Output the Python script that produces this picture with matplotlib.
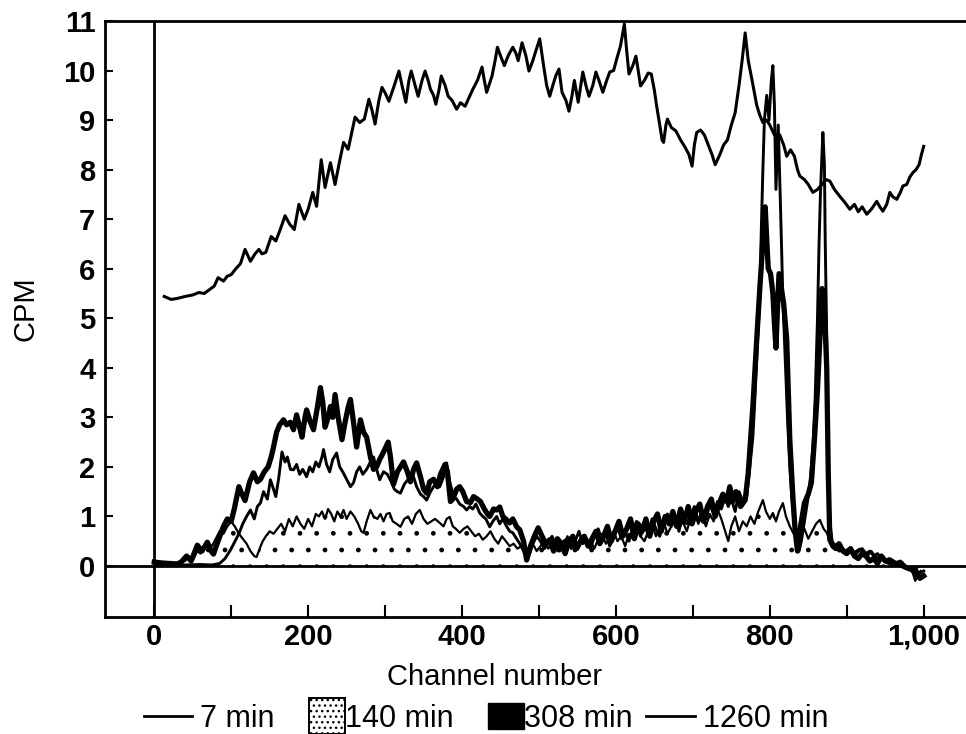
import matplotlib
matplotlib.use('Agg')
import matplotlib.pyplot as plt
import numpy as np
from matplotlib.lines import Line2D
from matplotlib.patches import Patch, Rectangle
from matplotlib.legend_handler import HandlerPatch
from matplotlib.ticker import FuncFormatter, MultipleLocator

plt.rcParams['font.family'] = ['Liberation Sans', 'DejaVu Sans']
plt.rcParams['hatch.linewidth'] = 1.0

series_labels = ['7 min', '140 min', '308 min', '1260 min']
x_label = 'Channel number'
y_label = 'CPM'
x_ticks = [0, 200, 400, 600, 800, 1000]
y_ticks = list(range(0, 12))

# (channel, CPM) pairs
min7 = [(13, 5.44), (22, 5.38), (30, 5.40), (40, 5.44), (50, 5.47), (58, 5.52), (65, 5.50), (72, 5.58),
        (78, 5.65), (83, 5.82), (90, 5.75), (95, 5.85), (100, 5.88), (106, 6.0), (112, 6.1), (118, 6.39),
        (125, 6.15), (131, 6.3), (136, 6.39), (140, 6.3), (145, 6.33), (152, 6.65), (158, 6.56), (164, 6.8),
        (170, 7.07), (176, 6.9), (182, 6.79), (188, 7.3), (195, 7.0), (200, 7.2), (206, 7.54), (211, 7.26),
        (217, 8.2), (222, 7.64), (229, 8.14), (235, 7.7), (240, 8.1), (246, 8.55), (252, 8.41), (256, 8.7),
        (261, 9.06), (267, 8.95), (273, 9.02), (279, 9.42), (283, 9.2), (287, 8.92), (292, 9.4), (296, 9.66),
        (300, 9.55), (305, 9.38), (312, 9.7), (318, 9.99), (322, 9.7), (327, 9.36), (331, 9.8), (334, 9.99),
        (339, 9.7), (343, 9.48), (348, 9.8), (352, 9.99), (356, 9.8), (359, 9.62), (363, 9.5), (366, 9.32),
        (370, 9.6), (373, 9.89), (378, 9.7), (382, 9.48), (387, 9.4), (393, 9.22), (398, 9.35), (404, 9.28),
        (409, 9.45), (414, 9.62), (420, 9.8), (426, 10.07), (429, 9.8), (432, 9.56), (436, 9.75), (439, 9.89),
        (443, 10.2), (446, 10.47), (450, 10.3), (455, 10.1), (460, 10.3), (466, 10.47), (470, 10.35), (473, 10.2),
        (478, 10.56), (483, 10.3), (487, 9.99), (492, 10.2), (496, 10.4), (501, 10.64), (506, 10.1), (510, 9.7),
        (514, 9.48), (518, 9.7), (522, 9.9), (526, 10.03), (530, 9.56), (535, 9.4), (539, 9.18), (543, 9.5),
        (546, 9.8), (551, 9.36), (557, 9.97), (561, 9.7), (565, 9.48), (570, 9.7), (574, 9.97), (578, 9.8),
        (583, 9.56), (588, 9.8), (592, 9.97), (597, 10.0), (601, 10.23), (606, 10.5), (611, 10.94), (614, 10.4),
        (617, 9.93), (622, 10.1), (626, 10.29), (629, 10.0), (632, 9.69), (637, 9.8), (642, 9.95), (646, 9.93),
        (650, 9.6), (653, 9.28), (657, 8.9), (660, 8.6), (662, 8.55), (665, 8.9), (667, 9.02), (672, 8.85),
        (678, 8.78), (684, 8.6), (690, 8.45), (695, 8.3), (699, 8.07), (702, 8.5), (705, 8.75), (710, 8.8),
        (715, 8.7), (720, 8.5), (725, 8.3), (729, 8.1), (735, 8.3), (740, 8.5), (745, 8.6), (750, 8.9),
        (755, 9.15), (760, 9.7), (764, 10.2), (768, 10.76), (772, 10.2), (777, 9.8), (783, 9.3), (787, 9.1),
        (791, 8.95), (796, 9.0), (800, 8.9), (806, 8.7), (813, 8.7), (818, 8.5), (822, 8.27), (827, 8.4),
        (832, 8.27), (836, 8.0), (839, 7.87), (845, 7.8), (850, 7.7), (856, 7.54), (862, 7.6), (868, 7.7),
        (873, 7.8), (878, 7.77), (884, 7.6), (891, 7.46), (897, 7.35), (904, 7.2), (910, 7.3), (915, 7.15),
        (920, 7.25), (926, 7.1), (932, 7.2), (939, 7.36), (943, 7.25), (947, 7.16), (952, 7.3), (956, 7.54),
        (960, 7.45), (965, 7.4), (970, 7.55), (973, 7.67), (978, 7.7), (982, 7.85), (986, 7.94), (990, 8.0),
        (994, 8.1), (997, 8.3), (1000, 8.47)]

min140 = [(0, 0.05), (15, 0.03), (30, 0.05), (40, 0.1), (45, 0.2), (50, 0.12), (56, 0.3), (60, 0.25),
          (65, 0.35), (70, 0.45), (75, 0.4), (80, 0.55), (85, 0.7), (90, 0.65), (95, 0.8), (100, 0.9),
          (105, 0.79), (110, 0.65), (115, 0.55), (120, 0.45), (125, 0.3), (130, 0.2), (133, 0.18), (137, 0.35),
          (141, 0.5), (145, 0.6), (150, 0.7), (155, 0.65), (160, 0.75), (165, 0.85), (170, 0.7), (175, 0.95),
          (180, 0.8), (185, 1.0), (190, 0.85), (195, 0.75), (200, 0.95), (205, 0.8), (210, 1.05), (214, 1.0),
          (218, 1.1), (222, 0.95), (226, 1.15), (230, 1.05), (234, 0.9), (238, 1.1), (242, 1.0), (246, 1.13),
          (250, 0.95), (255, 1.1), (260, 1.0), (265, 0.85), (269, 0.7), (272, 0.67), (276, 0.9), (281, 1.13),
          (285, 1.0), (290, 0.95), (294, 1.05), (298, 0.9), (302, 1.05), (306, 1.07), (310, 0.9), (315, 0.85),
          (320, 0.79), (325, 0.95), (330, 1.0), (335, 0.85), (340, 1.05), (345, 1.13), (350, 0.95), (355, 0.85),
          (360, 0.9), (365, 0.95), (371, 0.87), (376, 0.8), (380, 0.95), (384, 0.99), (388, 0.8), (392, 0.75),
          (397, 0.67), (402, 0.75), (407, 0.8), (412, 0.7), (417, 0.6), (422, 0.65), (427, 0.53), (432, 0.6),
          (437, 0.7), (442, 0.55), (447, 0.45), (452, 0.6), (457, 0.5), (462, 0.4), (467, 0.45), (472, 0.35),
          (477, 0.4), (482, 0.3), (487, 0.35), (492, 0.45), (497, 0.3), (502, 0.4), (507, 0.5), (512, 0.35),
          (517, 0.45), (522, 0.55), (527, 0.35), (532, 0.4), (537, 0.6), (542, 0.45), (547, 0.35), (552, 0.5),
          (557, 0.6), (562, 0.4), (567, 0.5), (572, 0.35), (577, 0.55), (582, 0.65), (587, 0.45), (592, 0.55),
          (597, 0.7), (602, 0.5), (607, 0.6), (612, 0.4), (617, 0.65), (622, 0.55), (627, 0.75), (632, 0.6),
          (637, 0.5), (642, 0.7), (647, 0.85), (652, 0.6), (657, 0.75), (662, 0.9), (667, 0.65), (672, 0.8),
          (677, 1.0), (682, 0.75), (687, 0.9), (692, 0.7), (697, 0.95), (702, 1.1), (707, 0.85), (712, 1.0),
          (717, 0.8), (722, 1.05), (727, 0.9), (732, 1.15), (737, 0.95), (742, 0.7), (746, 0.5), (750, 0.8),
          (755, 1.0), (760, 0.7), (765, 0.9), (770, 0.8), (775, 1.0), (780, 0.85), (785, 1.1), (791, 1.33),
          (795, 1.1), (800, 0.95), (804, 1.07), (808, 0.9), (812, 1.1), (817, 1.27), (821, 1.0), (826, 0.8),
          (831, 0.65), (835, 0.53), (840, 0.6), (845, 0.75), (850, 0.55), (855, 0.7), (860, 0.85), (865, 0.93),
          (870, 0.75), (874, 0.67), (878, 0.5), (882, 0.4), (887, 0.45), (892, 0.35), (897, 0.3), (902, 0.35),
          (907, 0.25), (912, 0.3), (917, 0.35), (922, 0.25), (927, 0.2), (932, 0.3), (937, 0.2), (942, 0.15),
          (947, 0.2), (952, 0.1), (957, 0.15), (962, 0.1), (967, 0.05), (972, 0.08), (977, 0.0), (982, -0.05),
          (986, -0.15), (989, -0.3), (992, -0.2), (996, -0.1)]

min308 = [(0, 0.08), (10, 0.06), (20, 0.05), (30, 0.04), (35, 0.08), (42, 0.2), (48, 0.1), (56, 0.42),
          (62, 0.3), (69, 0.48), (74, 0.3), (77, 0.24), (84, 0.55), (90, 0.8), (95, 0.95), (100, 0.9),
          (104, 1.15), (110, 1.6), (114, 1.45), (118, 1.32), (124, 1.7), (129, 1.88), (134, 1.7), (138, 1.75),
          (143, 1.9), (148, 2.0), (152, 2.2), (155, 2.4), (159, 2.7), (163, 2.85), (168, 2.95), (172, 2.85),
          (177, 2.9), (181, 2.75), (185, 3.05), (189, 2.8), (192, 2.6), (196, 3.0), (198, 3.15), (203, 2.9),
          (207, 2.75), (212, 3.2), (216, 3.6), (219, 3.3), (222, 2.8), (226, 3.0), (229, 3.22), (232, 3.0),
          (235, 3.46), (239, 3.0), (244, 2.55), (248, 2.9), (252, 3.2), (255, 3.36), (259, 2.9), (263, 2.4),
          (268, 2.95), (272, 2.7), (276, 2.6), (281, 2.2), (285, 1.95), (289, 2.0), (293, 2.15), (298, 2.3),
          (304, 2.5), (307, 2.2), (311, 1.65), (316, 1.9), (320, 2.0), (324, 2.1), (329, 1.9), (333, 1.7),
          (337, 1.95), (341, 2.08), (346, 1.8), (350, 1.55), (354, 1.47), (358, 1.7), (363, 1.75), (368, 1.6),
          (372, 1.85), (378, 2.05), (381, 1.9), (385, 1.3), (388, 1.35), (393, 1.55), (397, 1.6), (401, 1.5),
          (406, 1.3), (411, 1.28), (415, 1.4), (420, 1.35), (424, 1.3), (429, 1.15), (433, 1.05), (436, 1.0),
          (441, 1.15), (445, 1.13), (449, 1.19), (453, 1.0), (458, 0.93), (462, 0.87), (466, 0.95), (471, 0.79),
          (475, 0.73), (480, 0.5), (484, 0.12), (489, 0.4), (494, 0.6), (499, 0.77), (504, 0.6), (509, 0.45),
          (514, 0.53), (519, 0.3), (524, 0.55), (529, 0.45), (534, 0.25), (539, 0.5), (544, 0.6), (549, 0.35),
          (554, 0.5), (559, 0.6), (564, 0.4), (569, 0.55), (574, 0.7), (579, 0.45), (584, 0.6), (589, 0.8),
          (594, 0.5), (599, 0.7), (604, 0.9), (609, 0.6), (614, 0.75), (619, 0.95), (624, 0.55), (629, 0.85),
          (634, 0.7), (639, 0.95), (644, 0.6), (649, 0.9), (654, 1.05), (659, 0.7), (664, 1.0), (669, 0.85),
          (674, 1.1), (679, 0.8), (684, 1.15), (689, 0.9), (694, 1.2), (699, 0.85), (704, 1.1), (709, 1.25),
          (714, 0.9), (719, 1.2), (724, 1.35), (729, 1.0), (734, 1.25), (739, 1.45), (744, 1.3), (748, 1.6),
          (752, 1.3), (756, 1.5), (762, 1.2), (768, 1.33), (772, 1.88), (778, 3.22), (783, 4.57), (787, 5.6),
          (790, 6.3), (792, 7.0), (794, 7.25), (796, 6.6), (798, 6.0), (801, 5.9), (804, 5.5), (806, 4.9),
          (808, 4.4), (810, 5.2), (812, 5.9), (815, 5.6), (818, 5.3), (822, 4.57), (826, 2.55), (830, 1.4),
          (833, 0.7), (836, 0.3), (840, 0.8), (845, 1.27), (850, 1.45), (854, 1.68), (858, 2.55), (862, 3.56),
          (865, 4.57), (868, 5.6), (871, 5.2), (874, 4.0), (876, 1.88), (878, 0.53), (882, 0.4), (886, 0.35),
          (890, 0.45), (895, 0.3), (900, 0.25), (905, 0.35), (910, 0.2), (915, 0.15), (920, 0.25), (925, 0.2),
          (930, 0.1), (935, 0.15), (940, 0.05), (945, 0.2), (950, 0.1), (960, 0.05), (970, 0.02), (980, -0.05),
          (990, -0.1), (995, -0.25), (1000, -0.2)]

min1260 = [(0, 0.02), (20, 0.03), (40, 0.02), (60, 0.03), (75, 0.02), (85, 0.05), (92, 0.15), (99, 0.32),
           (105, 0.5), (110, 0.65), (115, 0.85), (120, 1.0), (125, 1.13), (130, 0.95), (134, 1.2), (138, 1.27),
           (142, 1.5), (147, 1.35), (151, 1.74), (155, 1.55), (158, 1.4), (162, 1.8), (166, 2.3), (170, 2.1),
           (173, 2.2), (177, 1.95), (181, 1.94), (185, 2.05), (189, 1.85), (193, 1.95), (198, 1.8), (202, 2.0),
           (206, 1.9), (210, 2.1), (214, 2.0), (218, 2.2), (220, 2.35), (224, 2.05), (228, 1.9), (232, 2.15),
           (237, 2.28), (241, 2.0), (245, 1.9), (250, 1.75), (255, 1.6), (259, 1.68), (263, 1.9), (267, 2.0),
           (271, 1.85), (276, 1.95), (281, 2.1), (285, 2.2), (289, 1.95), (293, 1.74), (298, 1.9), (303, 1.85),
           (308, 1.7), (312, 1.55), (316, 1.5), (320, 1.47), (325, 1.65), (330, 1.75), (334, 1.8), (337, 1.8),
           (341, 1.6), (346, 1.45), (350, 1.4), (354, 1.33), (359, 1.5), (363, 1.6), (367, 1.68), (371, 1.6),
           (376, 1.8), (380, 2.08), (384, 1.7), (389, 1.4), (393, 1.35), (397, 1.25), (402, 1.2), (406, 1.13),
           (410, 1.2), (414, 1.15), (418, 1.25), (423, 1.07), (427, 1.0), (431, 0.95), (436, 0.79), (440, 0.9),
           (445, 1.0), (449, 0.85), (453, 0.95), (458, 0.8), (462, 0.7), (466, 0.67), (471, 0.55), (475, 0.45),
           (480, 0.3), (484, 0.15), (488, 0.25), (492, 0.45), (497, 0.6), (502, 0.5), (507, 0.35), (512, 0.45),
           (517, 0.6), (522, 0.4), (527, 0.3), (532, 0.5), (537, 0.55), (542, 0.35), (547, 0.5), (552, 0.7),
           (557, 0.45), (562, 0.55), (567, 0.35), (572, 0.6), (577, 0.75), (582, 0.5), (587, 0.65), (592, 0.4),
           (597, 0.6), (602, 0.8), (607, 0.55), (612, 0.7), (617, 0.5), (622, 0.75), (627, 0.9), (632, 0.6),
           (637, 0.8), (642, 0.65), (647, 0.95), (652, 0.75), (657, 0.6), (662, 0.9), (667, 1.05), (672, 0.8),
           (677, 0.95), (682, 0.7), (687, 1.1), (692, 0.85), (697, 1.0), (702, 1.2), (707, 0.9), (712, 1.1),
           (717, 0.95), (722, 1.25), (727, 1.05), (732, 1.3), (737, 1.15), (742, 1.4), (746, 1.2), (750, 1.35),
           (755, 1.1), (760, 1.5), (765, 1.3), (770, 1.4), (774, 2.0), (778, 2.6), (781, 3.5), (784, 4.5),
           (787, 5.4), (789, 6.8), (791, 8.0), (793, 9.0), (796, 9.5), (799, 9.0), (802, 9.8), (804, 10.1),
           (806, 9.3), (808, 7.6), (811, 8.9), (814, 7.2), (817, 5.4), (820, 4.2), (823, 3.0), (826, 2.0),
           (829, 1.3), (832, 0.8), (835, 0.5), (838, 0.3), (841, 0.5), (845, 0.9), (849, 1.3), (853, 1.8),
           (856, 2.4), (859, 3.4), (862, 5.0), (864, 6.5), (866, 7.6), (868, 8.4), (869, 8.75), (871, 8.1),
           (872, 6.6), (874, 4.6), (876, 2.2), (878, 0.9), (881, 0.5), (885, 0.4), (890, 0.3), (895, 0.35),
           (900, 0.25), (905, 0.3), (910, 0.2), (915, 0.3), (920, 0.35), (925, 0.25), (930, 0.3), (935, 0.2),
           (940, 0.25), (945, 0.15), (950, 0.1), (955, 0.15), (960, 0.05), (970, 0.1), (975, 0.0), (980, -0.05),
           (985, -0.1), (990, -0.2), (995, -0.15), (1000, -0.1)]


def unzip(pairs):
    a = np.array(pairs, dtype=float)
    return a[:, 0], a[:, 1]


fig = plt.figure(figsize=(9.66, 7.34), dpi=100)
ax = fig.add_axes([105 / 966, 117 / 734, 861 / 966, 596 / 734])

x7, y7 = unzip(min7)
x140, y140 = unzip(min140)
x308, y308 = unzip(min308)
x1260, y1260 = unzip(min1260)

ax.fill_between(x140, y140, 0, facecolor='none', edgecolor='black', hatch='.', linewidth=0)
ax.plot(x140, y140, color='black', lw=1.6)
ax.plot(x1260, y1260, color='black', lw=2.1)
ax.plot(x308, y308, color='black', lw=3.8)
ax.plot(x7, y7, color='black', lw=2.2)

ax.axhline(0, color='black', lw=2.0, zorder=1)
ax.axvline(0, color='black', lw=2.0, zorder=1)

ax.set_xlim(-64, 1055)
ax.set_ylim(-1.03, 11.0)

for s in ['top', 'left', 'bottom']:
    ax.spines[s].set_linewidth(2.0)
ax.spines['right'].set_visible(False)

ax.set_xticks(x_ticks)
ax.xaxis.set_minor_locator(MultipleLocator(100))
ax.xaxis.set_major_formatter(FuncFormatter(lambda v, p: f'{int(v):,}'))
ax.set_yticks(y_ticks)
ax.tick_params(axis='x', which='both', direction='in', length=9, width=1.5, pad=4,
               labelsize=21)
ax.tick_params(axis='y', which='both', direction='in', length=6, width=1.5, pad=7,
               labelsize=21)
for lab in ax.get_xticklabels() + ax.get_yticklabels():
    lab.set_fontweight('bold')

ax.set_xlabel(x_label, fontsize=21)
ax.xaxis.set_label_coords((495 - 105) / 861, -0.077)
ax.set_ylabel(y_label, fontsize=21)
ax.yaxis.set_label_coords(-0.076, 0.517)

LEG_FS = 22
HANDLE_LEN = 1.6
TEXT_PAD = 0.25


def box_maker(width_pt, height_pt):
    def make(legend, orig_handle, xdescent, ydescent, width, height, fontsize):
        x0 = -xdescent + width + TEXT_PAD * fontsize - width_pt
        y0 = -ydescent + height / 2 - height_pt / 2
        return Rectangle((x0, y0), width_pt, height_pt)
    return make


h7 = Line2D([], [], color='black', lw=2.0)
h140 = Patch(facecolor='white', edgecolor='black', hatch='...', linewidth=1.4)
h308 = Patch(facecolor='black', edgecolor='black')
h1260 = Line2D([], [], color='black', lw=2.0)

fig.legend([h7, h140, h308, h1260], series_labels, loc='center', bbox_to_anchor=(0.503, 0.0205),
           ncol=4, frameon=False, fontsize=LEG_FS, handlelength=HANDLE_LEN, handletextpad=TEXT_PAD,
           columnspacing=0.45, borderpad=0,
           handler_map={h140: HandlerPatch(patch_func=box_maker(26, 26)),
                        h308: HandlerPatch(patch_func=box_maker(26, 19))})

fig.savefig('out.png', dpi=100)
